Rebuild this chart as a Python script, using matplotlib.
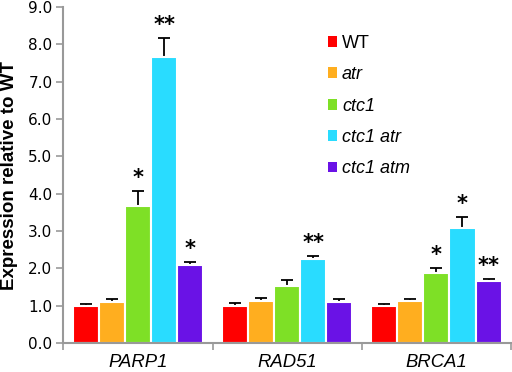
import matplotlib
matplotlib.use("Agg")
import matplotlib.pyplot as plt
import numpy as np

categories = ["PARP1", "RAD51", "BRCA1"]
series = ["WT", "atr", "ctc1", "ctc1 atr", "ctc1 atm"]
colors = ["#ff0000", "#ffae1f", "#7ee026", "#29dcff", "#6a12e6"]
values = [
    [1.00, 1.00, 1.00],
    [1.10, 1.12, 1.13],
    [3.68, 1.52, 1.88],
    [7.67, 2.25, 3.08],
    [2.08, 1.10, 1.66],
]
errors = [
    [0.05, 0.08, 0.05],
    [0.07, 0.08, 0.04],
    [0.38, 0.18, 0.14],
    [0.50, 0.07, 0.30],
    [0.10, 0.08, 0.06],
]
stars = [
    ["", "", ""],
    ["", "", ""],
    ["*", "", "*"],
    ["**", "**", "*"],
    ["*", "", "**"],
]
yticks = [0.0, 1.0, 2.0, 3.0, 4.0, 5.0, 6.0, 7.0, 8.0, 9.0]

fig = plt.figure(figsize=(5.12, 3.72), dpi=100)
ax = fig.add_axes([0.124, 0.078, 0.874, 0.903])

n = len(series)
width = 0.175
x = np.arange(len(categories))
for i in range(n):
    pos = x + (i - (n - 1) / 2) * width
    ax.bar(pos, values[i], width=width, color=colors[i], edgecolor="white",
           linewidth=1.5, label=series[i], zorder=2)
    ax.errorbar(pos, values[i], yerr=errors[i],
                fmt="none", ecolor="black", elinewidth=1.3, capsize=4,
                capthick=1.3, zorder=1)
    for j in range(len(categories)):
        if stars[i][j]:
            ax.text(pos[j], values[i][j] + errors[i][j] + 0.08, stars[i][j],
                    ha="center", va="bottom", fontsize=15, fontweight="bold",
                    family="DejaVu Sans")

ax.set_xlim(-0.5, len(categories) - 0.5)
ax.set_ylim(0, 9.0)
ax.set_yticks(yticks)
ax.set_yticklabels([f"{v:.1f}" for v in yticks], fontsize=11, family="DejaVu Sans")
ax.set_xticks(x)
ax.set_xticklabels(categories, fontsize=13.3, style="italic", family="Liberation Sans")
ax.tick_params(axis="x", length=0, pad=8)
ax.set_xticks(np.arange(-0.5, len(categories)), minor=True)
ax.tick_params(axis="x", which="minor", length=5, color="#999999", width=1.2)
ax.tick_params(axis="y", length=5, color="#999999", width=1.2, pad=3)
ax.set_ylabel("Expression relative to WT", fontsize=13.5, fontweight="bold",
              family="Liberation Sans", labelpad=7)
for s in ["top", "right"]:
    ax.spines[s].set_visible(False)
for s in ["left", "bottom"]:
    ax.spines[s].set_color("#999999")
    ax.spines[s].set_linewidth(1.5)

handles, labels = ax.get_legend_handles_labels()
leg = ax.legend(handles, labels, loc="upper left", bbox_to_anchor=(0.59, 0.918),
                frameon=False, handlelength=0.55, handleheight=0.55,
                handletextpad=0.25, labelspacing=0.8, borderpad=0,
                borderaxespad=0,
                prop={"family": "Liberation Sans", "size": 13})
for t in leg.get_texts():
    if t.get_text() != "WT":
        t.set_style("italic")
for h in leg.legend_handles:
    h.set_edgecolor("none")

fig.savefig("out.png", dpi=100)
